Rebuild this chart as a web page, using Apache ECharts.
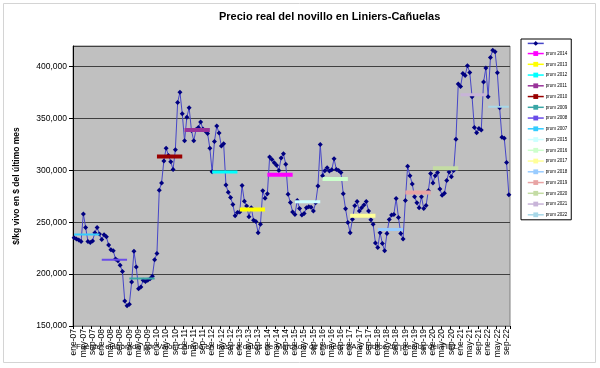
<!DOCTYPE html>
<html><head><meta charset="utf-8">
<script src="https://cdn.jsdelivr.net/npm/echarts@6/dist/echarts.min.js"></script>
<style>html,body{margin:0;padding:0;background:#fff}#c{width:600px;height:368px}</style>
</head><body><div id="c"></div>
<script>
// ---- DATA ----
const monthNames = ['ene','feb','mar','abr','may','jun','jul','ago','sep','oct','nov','dic'];
const years = [2007,2008,2009,2010,2011,2012,2013,2014,2015,2016,2017,2018,2019,2020,2021,2022];
const precio2007 = [235000,234000,233000,231500,258000,245000,231500,230500,232000,240000,245000,238600];
const precio2008 = [233500,238000,236000,228000,223500,222500,214500,213000,208500,202500,174000,169500];
const precio2009 = [171000,192500,222000,207000,186000,187500,194000,193000,194000,195500,198000,214000];
const precio2010 = [220000,281000,288000,309000,321500,314500,308500,301000,320000,365500,375500,354700];
const precio2011 = [328600,351400,360500,338600,328600,339500,341500,346600,340000,338000,335700,321500];
const precio2012 = [298700,328000,342800,336000,323500,325700,286000,279000,274000,267200,256300,259500];
const precio2013 = [260000,285500,270400,265600,255300,264000,252000,250800,240000,248000,280400,273300];
const precio2014 = [277500,313000,310600,307400,305000,300000,312000,316000,306000,277000,269000,260000];
const precio2015 = [257600,271000,263300,257000,258500,264000,265000,264600,260800,268800,285000,325000];
const precio2016 = [294900,299700,302600,299400,300600,311300,301000,300000,298000,277500,263000,249800];
const precio2017 = [240000,253000,265900,270000,260800,264000,266600,270000,261000,252400,248000,230000];
const precio2018 = [225700,240000,229600,222500,239200,252700,257000,257600,273000,254700,239200,233800];
const precio2019 = [271000,304000,295000,287000,274600,268800,264000,274600,263300,266200,280400,297000];
const precio2020 = [288000,295000,298000,282000,276000,278000,290400,298400,294000,300000,330000,383300];
const precio2021 = [381000,393600,391600,401000,394500,371000,341500,336300,340500,339000,385200,398700];
const precio2022 = [371000,409000,416000,414500,394200,360500,332000,331000,307700,276500];
// yearly averages ("prom"), same order as years
const promValues = [238300,213800,195800,313500,338900,298400,262400,295800,269800,291700,256300,243100,278800,302000,373000,361400];
const legendOrder = [2014,2013,2012,2011,2010,2009,2008,2007,2015,2016,2017,2018,2019,2020,2021,2022];
const yTicks = {min:150000, max:420000, step:50000};

// ---- STYLE ----
const promColors = {2007:'#33ccff',2008:'#6a4ce8',2009:'#3aa6a6',2010:'#990000',2011:'#993399',2012:'#00ffff',
  2013:'#ffff00',2014:'#ff00ff',2015:'#ccffff',2016:'#ccffcc',2017:'#ffff99',2018:'#99ccff',
  2019:'#e8a4a4',2020:'#c4dca4',2021:'#c8b4d8',2022:'#a8d8e8'};
const promWidths = {2007:2,2008:2,2009:2,2010:4,2011:4,2012:3,2013:4,2014:4,2015:3,2016:4,2017:4,2018:3,2019:4,2020:4,2021:3,2022:2};

const precio = [].concat(precio2007,precio2008,precio2009,precio2010,precio2011,precio2012,precio2013,precio2014,
  precio2015,precio2016,precio2017,precio2018,precio2019,precio2020,precio2021,precio2022);
const categories = [];
for (let k = 0; k < precio.length; k++) {
  const y = 2007 + Math.floor(k/12);
  categories.push(monthNames[k%12] + '-' + String(y).slice(2));
}

const series = [{
  name: 'Precio', type: 'line', data: precio,
  symbol: 'diamond', symbolSize: 5, showAllSymbol: true,
  lineStyle: {color:'#4646c8', width:1},
  itemStyle: {color:'#000080'},
  emphasis: {disabled:true}, z: 2
}];
years.forEach((y, idx) => {
  const d = categories.map((c, k) => (Math.floor(k/12) === idx ? promValues[idx] : null));
  series.push({
    name: 'prom ' + y, type: 'line', data: d, symbol: 'rect', symbolSize: 3, showSymbol: false,
    lineStyle: {color: promColors[y], width: promWidths[y]},
    itemStyle: {color: promColors[y]},
    emphasis: {disabled:true}, z: 3
  });
});

const fmt = v => String(v).replace(/\B(?=(\d{3})+(?!\d))/g, ',');
const FONT = 'Liberation Sans';

const chart = echarts.init(document.getElementById('c'));
chart.setOption({
  animation: false,
  backgroundColor: '#ffffff',
  title: {
    text: 'Precio real del novillo en Liniers-Cañuelas',
    left: 214, top: 6,
    textStyle: {fontFamily: FONT, fontSize: 11, fontWeight: 'bold', color: '#000'}
  },
  grid: {left: 73, right: 90, top: 46, bottom: 42, show: true, backgroundColor: '#c0c0c0', borderColor: '#808080', borderWidth: 1},
  legend: {
    orient: 'vertical', left: 521, top: 39,
    data: ['Precio'].concat(legendOrder.map(y => 'prom ' + y)),
    backgroundColor: '#ffffff', borderColor: '#000', borderWidth: 1, borderRadius: 0,
    padding: [2, 4, 2, 6], itemWidth: 16, itemHeight: 6, itemGap: 4.75,
    formatter: n => (n === 'Precio' ? '' : n),
    textStyle: {fontFamily: FONT, fontSize: 4.5, lineHeight: 6, color: '#000', padding: [0,0,0,-3]},
    lineStyle: {width: 1.5},
    selectedMode: false
  },
  xAxis: {
    type: 'category', data: categories, boundaryGap: true,
    axisLine: {show: true, lineStyle: {color: '#808080', width: 1}},
    axisTick: {show: true, interval: 3, length: 3, inside: false, lineStyle: {color: '#000'}},
    axisLabel: {interval: 3, rotate: 90, fontFamily: FONT, fontSize: 8.5, color: '#000', margin: 3}
  },
  yAxis: {
    type: 'value', min: yTicks.min, max: yTicks.max, interval: yTicks.step,
    name: '$/kg vivo en $ del último mes', nameLocation: 'middle', nameGap: 52,
    nameTextStyle: {fontFamily: FONT, fontSize: 8.5, fontWeight: 'bold', color: '#000'},
    axisLine: {show: true, lineStyle: {color: '#000', width: 1}},
    axisTick: {show: true, length: 4, lineStyle: {color: '#000'}},
    axisLabel: {showMaxLabel: false, formatter: fmt, fontFamily: FONT, fontSize: 8.5, color: '#000', margin: 6},
    splitLine: {show: true, lineStyle: {color: '#404040', width: 1}}
  },
  series: series,
  graphic: [
    {type: 'rect', shape: {x: 3.5, y: 3.5, width: 592, height: 359}, style: {fill: 'none', stroke: '#d4d4d4', lineWidth: 1}, silent: true, z: -10},
    {type: 'text', left: 76, top: 343, style: {text: 'Fuente: elaborado por Valor Campo en base a datos de Mercado de Liniers SA e índice de precios del FIEL', font: '8px "Liberation Sans"', fill: '#000'}, z: 10}
  ]
});
</script></body></html>
